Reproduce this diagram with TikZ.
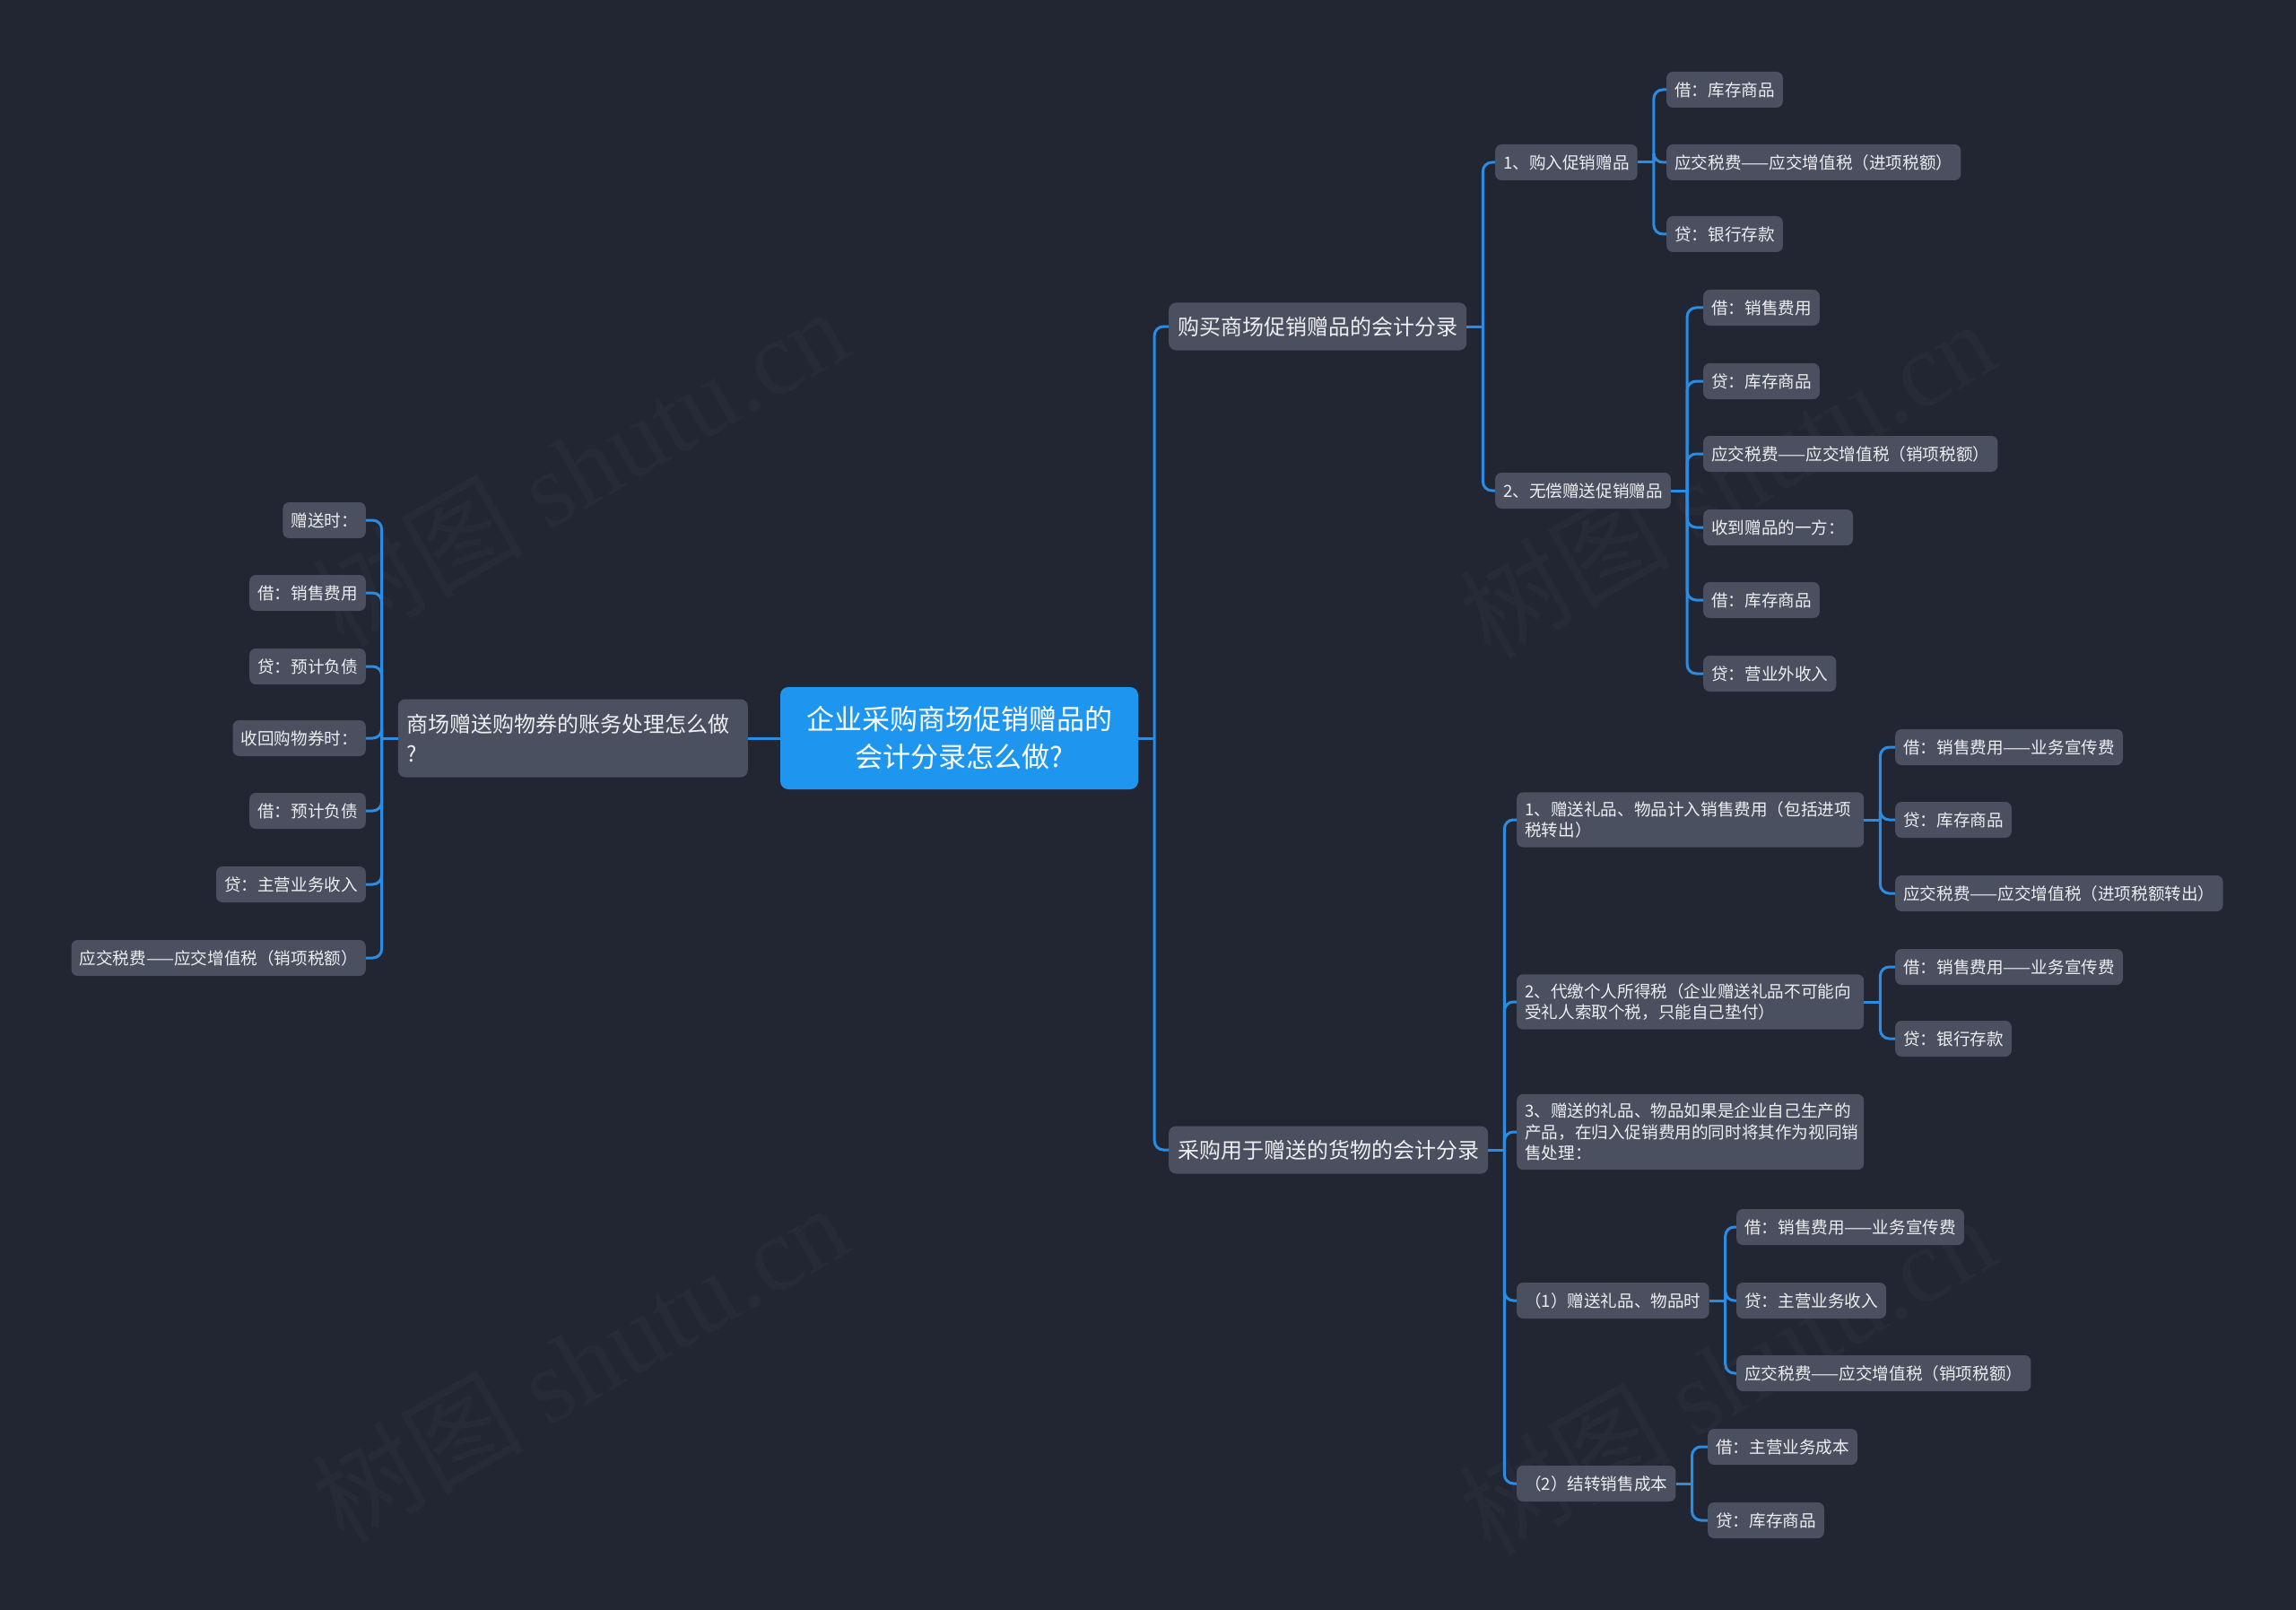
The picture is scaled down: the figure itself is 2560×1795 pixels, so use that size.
\documentclass[tikz,border=0pt]{standalone}
\usepackage{fontspec}
\setmainfont{Noto Sans CJK SC}
\newfontfamily\wmfont{Liberation Serif}
\usetikzlibrary{calc}
\definecolor{bgc}{HTML}{222633}
\definecolor{nodefill}{HTML}{4A5060}
\definecolor{lineblue}{HTML}{2A8CE2}
\definecolor{rootblue}{HTML}{1E96F0}
\definecolor{txt}{HTML}{EDEEF0}
\definecolor{wm}{HTML}{272B38}
\tikzset{
  leaf/.style={fill=nodefill, rounded corners=7pt, text=txt, font=\fontsize{18.6}{23}\selectfont, inner xsep=9pt, inner ysep=0pt, minimum height=40pt},
  multi/.style={fill=nodefill, rounded corners=7pt, text=txt, font=\fontsize{18.6}{23.5}\selectfont, inner xsep=9pt, inner ysep=10pt, align=left, text width=369pt},
  branch/.style={fill=nodefill, rounded corners=8pt, text=txt, font=\fontsize{24}{33}\selectfont, inner xsep=10pt, inner ysep=0pt, minimum height=53pt},
  rootnode/.style={fill=rootblue, rounded corners=9pt, text=white, font=\fontsize{31}{42}\selectfont, align=center, minimum width=399pt, minimum height=114pt},
  cline/.style={draw=lineblue, line width=3pt},
  wmark/.style={text=wm, font=\fontsize{118}{118}\selectfont, rotate=30}
}
\newcommand\rconn[2]{\draw[cline] (#1.east) -- ++(18pt,0pt);\draw[cline,rounded corners=10pt] ($(#1.east)+(18pt,0pt)$) |- (#2.west);}
\newcommand\lconn[2]{\draw[cline] (#1.west) -- ++(-18pt,0pt);\draw[cline,rounded corners=10pt] ($(#1.west)+(-18pt,0pt)$) |- (#2.east);}
\begin{document}
\begin{tikzpicture}[x=1pt,y=-1pt]
\fill[bgc] (0,0) rectangle (2560,1795);
\useasboundingbox (0,0) rectangle (2560,1795);
% watermarks
\node[wmark] (wm1) at (646,520) {树图 {\wmfont shutu.cn}};
\node[wmark] (wm2) at (1925,533) {树图 {\wmfont shutu.cn}};
\node[wmark] (wm3) at (646,1519) {树图 {\wmfont shutu.cn}};
\node[wmark] (wm4) at (1925,1532) {树图 {\wmfont shutu.cn}};
% root
\node[rootnode] (root) at (1069.5,823) {企业采购商场促销赠品的\\会计分录怎么做?};
% left branch
\node[branch, anchor=east, align=left, text width=370pt, minimum height=87pt] (L) at (834,823) {商场赠送购物券的账务处理怎么做\\?};
\node[leaf, anchor=east] (L1) at (408,580) {赠送时：};
\node[leaf, anchor=east] (L2) at (408,661) {借：销售费用};
\node[leaf, anchor=east] (L3) at (408,743) {贷：预计负债};
\node[leaf, anchor=east] (L4) at (408,823) {收回购物券时：};
\node[leaf, anchor=east] (L5) at (408,904) {借：预计负债};
\node[leaf, anchor=east] (L6) at (408,986) {贷：主营业务收入};
\node[leaf, anchor=east] (L7) at (408,1068) {应交税费——应交增值税（销项税额）};
% right branches
\node[branch, anchor=west] (A) at (1303,364) {购买商场促销赠品的会计分录};
\node[branch, anchor=west] (B) at (1303,1282) {采购用于赠送的货物的会计分录};
% branch A
\node[leaf, anchor=west] (A1) at (1667,181) {1、购入促销赠品};
\node[leaf, anchor=west] (A2) at (1667,547) {2、无偿赠送促销赠品};
\node[leaf, anchor=west] (A11) at (1858,100) {借：库存商品};
\node[leaf, anchor=west] (A12) at (1858,181) {应交税费——应交增值税（进项税额）};
\node[leaf, anchor=west] (A13) at (1858,261) {贷：银行存款};
\node[leaf, anchor=west] (A21) at (1899,343) {借：销售费用};
\node[leaf, anchor=west] (A22) at (1899,425) {贷：库存商品};
\node[leaf, anchor=west] (A23) at (1899,506) {应交税费——应交增值税（销项税额）};
\node[leaf, anchor=west] (A24) at (1899,588) {收到赠品的一方：};
\node[leaf, anchor=west] (A25) at (1899,669) {借：库存商品};
\node[leaf, anchor=west] (A26) at (1899,751) {贷：营业外收入};
% branch B
\node[multi, anchor=west] (B1) at (1691,914) {1、赠送礼品、物品计入销售费用（包括进项\\税转出）};
\node[multi, anchor=west] (B2) at (1691,1117) {2、代缴个人所得税（企业赠送礼品不可能向\\受礼人索取个税，只能自己垫付）};
\node[multi, anchor=west] (B3) at (1691,1262) {3、赠送的礼品、物品如果是企业自己生产的\\产品，在归入促销费用的同时将其作为视同销\\售处理：};
\node[leaf, anchor=west] (B4) at (1691,1450) {（1）赠送礼品、物品时};
\node[leaf, anchor=west] (B5) at (1691,1654) {（2）结转销售成本};
\node[leaf, anchor=west] (B11) at (2113,833) {借：销售费用——业务宣传费};
\node[leaf, anchor=west] (B12) at (2113,914) {贷：库存商品};
\node[leaf, anchor=west] (B13) at (2113,996) {应交税费——应交增值税（进项税额转出）};
\node[leaf, anchor=west] (B21) at (2113,1078) {借：销售费用——业务宣传费};
\node[leaf, anchor=west] (B22) at (2113,1158) {贷：银行存款};
\node[leaf, anchor=west] (B41) at (1936,1368) {借：销售费用——业务宣传费};
\node[leaf, anchor=west] (B42) at (1936,1450) {贷：主营业务收入};
\node[leaf, anchor=west] (B43) at (1936,1531) {应交税费——应交增值税（销项税额）};
\node[leaf, anchor=west] (B51) at (1904,1613) {借：主营业务成本};
\node[leaf, anchor=west] (B52) at (1904,1695) {贷：库存商品};
% connectors
\draw[cline] (root.west) -- (L.east);
\lconn{L}{L1}\lconn{L}{L2}\lconn{L}{L3}\lconn{L}{L4}\lconn{L}{L5}\lconn{L}{L6}\lconn{L}{L7}
\rconn{root}{A}\rconn{root}{B}
\rconn{A}{A1}\rconn{A}{A2}
\rconn{A1}{A11}\rconn{A1}{A12}\rconn{A1}{A13}
\rconn{A2}{A21}\rconn{A2}{A22}\rconn{A2}{A23}\rconn{A2}{A24}\rconn{A2}{A25}\rconn{A2}{A26}
\rconn{B}{B1}\rconn{B}{B2}\rconn{B}{B3}\rconn{B}{B4}\rconn{B}{B5}
\rconn{B1}{B11}\rconn{B1}{B12}\rconn{B1}{B13}
\rconn{B2}{B21}\rconn{B2}{B22}
\rconn{B4}{B41}\rconn{B4}{B42}\rconn{B4}{B43}
\rconn{B5}{B51}\rconn{B5}{B52}
\end{tikzpicture}
\end{document}
